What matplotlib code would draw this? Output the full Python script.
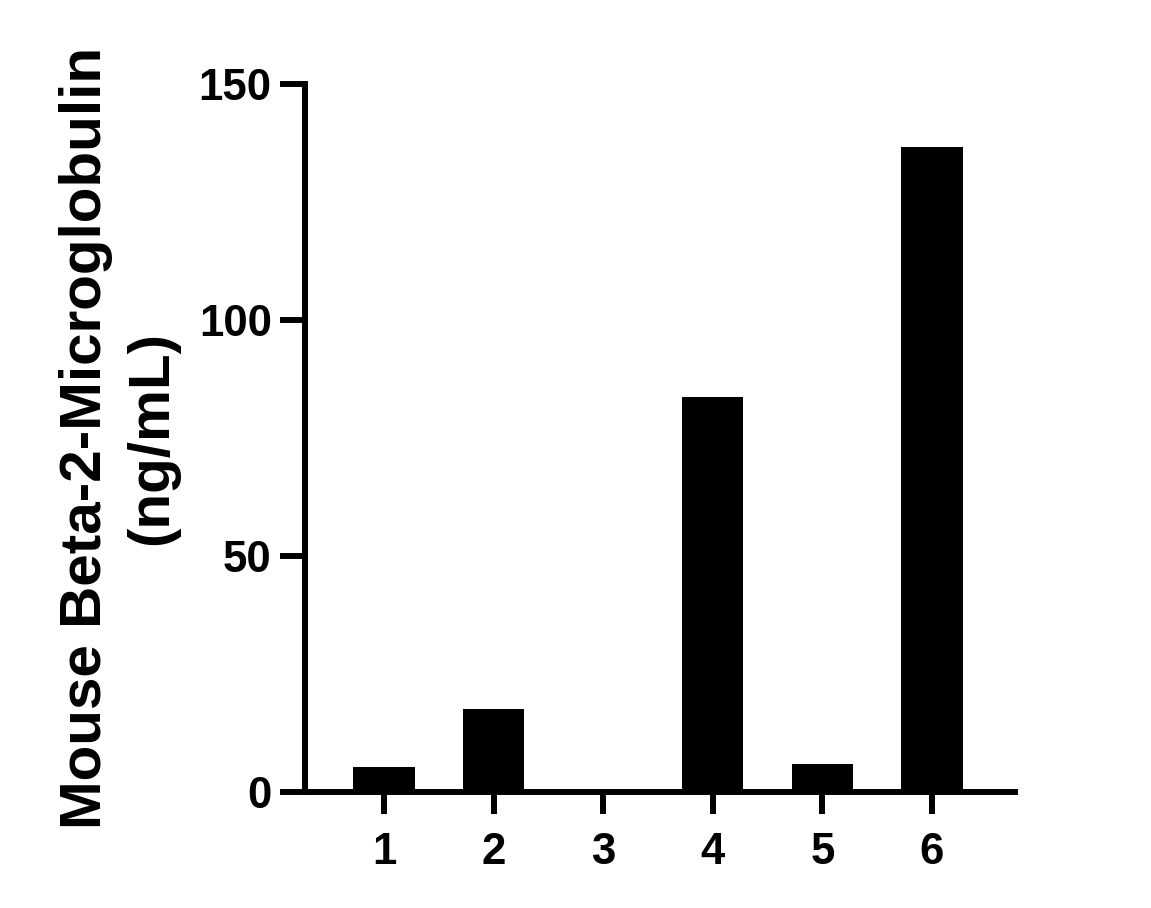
import matplotlib
matplotlib.use("Agg")
import matplotlib.pyplot as plt

categories = ["1", "2", "3", "4", "5", "6"]
values = [5.2, 17.5, 0.0, 83.6, 5.9, 136.6]
yticks = [0, 50, 100, 150]
ylabel = "Mouse Beta-2-Microglobulin\n(ng/mL)"

plt.rcParams['font.family'] = ['Liberation Sans', 'DejaVu Sans']
plt.rcParams['font.weight'] = 'bold'

fig = plt.figure(figsize=(11.51, 9.08), dpi=100)
ax = fig.add_axes([0.265, 0.1281, 0.8818 - 0.265, 0.9075 - 0.1281])

x = list(range(1, len(categories) + 1))
ax.bar(x, values, width=0.56, color="black", edgecolor="black", linewidth=0)

ax.set_xlim(0.279, 6.757)
ax.set_ylim(0, 150)
ax.set_yticks(yticks)
ax.set_yticklabels([str(t) for t in yticks], fontsize=31.5, fontweight='bold')
ax.set_xticks(x)
ax.set_xticklabels(categories, fontsize=31.5, fontweight='bold')

for s in ["top", "right"]:
    ax.spines[s].set_visible(False)
for s in ["left", "bottom"]:
    ax.spines[s].set_linewidth(4.3)
    ax.spines[s].set_capstyle('projecting')

ax.tick_params(axis='y', length=18, width=4.3, pad=6)
ax.tick_params(axis='x', length=16, width=4.3, pad=13)

ax.set_ylabel(ylabel, fontsize=42, fontweight='bold', labelpad=14, linespacing=1.28)

fig.savefig("out.png", dpi=100)
